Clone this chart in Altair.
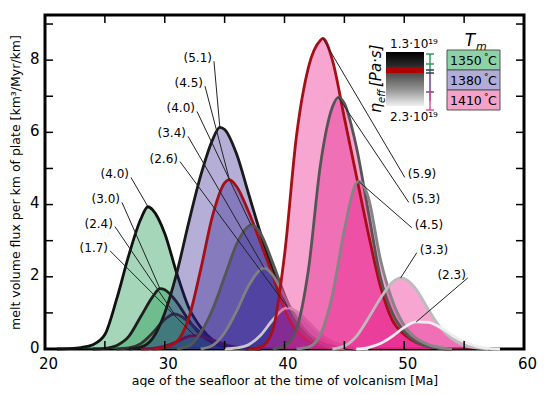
import altair as alt
import pandas as pd

# ---------------- values ----------------
# Tm = 1350 C (green)
g40_x = [21, 22, 23, 24, 25, 26, 27, 28, 28.6, 29, 30, 31, 32, 33, 34, 35, 36, 37, 38]
g40_y = [0, 0.01, 0.04, 0.12, 0.4, 1.4, 2.6, 3.6, 3.94, 3.85, 3.2, 2.1, 1.15, 0.6, 0.25, 0.1, 0.04, 0.01, 0]
g30_x = [24, 25, 26, 27, 28, 29, 29.6, 30, 31, 32, 33, 34, 35, 36, 37]
g30_y = [0, 0.02, 0.1, 0.35, 0.9, 1.45, 1.67, 1.64, 1.3, 0.8, 0.4, 0.17, 0.06, 0.02, 0]
g24_x = [26, 27, 28, 29, 30, 30.8, 31, 32, 33, 34, 35, 36, 37]
g24_y = [0, 0.03, 0.15, 0.45, 0.82, 0.97, 0.96, 0.75, 0.45, 0.22, 0.09, 0.03, 0]
g17_x = [28, 29, 30, 31, 32, 32.5, 33, 34, 35, 36, 37, 38]
g17_y = [0, 0.02, 0.08, 0.2, 0.35, 0.37, 0.35, 0.25, 0.13, 0.05, 0.015, 0]
# Tm = 1380 C (purple)
p51_x = [27, 28, 29, 30, 31, 32, 33, 34, 34.6, 35, 36, 37, 38, 39, 40, 41, 42, 43, 44, 45, 46]
p51_y = [0, 0.05, 0.3, 1.0, 2.1, 3.5, 4.8, 5.8, 6.14, 6.08, 5.4, 4.3, 3.2, 2.2, 1.4, 0.8, 0.4, 0.17, 0.06, 0.02, 0]
p45_x = [29, 30, 31, 32, 33, 34, 35, 35.4, 36, 37, 38, 39, 40, 41, 42, 43, 44, 45]
p45_y = [0, 0.04, 0.2, 0.85, 2.2, 3.7, 4.6, 4.69, 4.5, 3.8, 2.95, 2.05, 1.1, 0.5, 0.22, 0.08, 0.02, 0]
p40_x = [31, 32, 33, 34, 35, 36, 37, 37.2, 38, 39, 40, 41, 42, 43, 44, 45]
p40_y = [0, 0.08, 0.45, 1.1, 2.0, 2.9, 3.4, 3.44, 3.2, 2.4, 1.5, 0.75, 0.3, 0.1, 0.03, 0]
p34_x = [33, 34, 35, 36, 37, 38, 38.3, 39, 40, 41, 42, 43, 44, 45]
p34_y = [0, 0.1, 0.45, 1.05, 1.75, 2.2, 2.25, 2.05, 1.45, 0.85, 0.42, 0.17, 0.05, 0]
p26_x = [35, 36, 37, 38, 39, 40, 40.3, 41, 42, 43, 44, 45, 46, 47]
p26_y = [0, 0.03, 0.12, 0.38, 0.8, 1.12, 1.14, 1.05, 0.75, 0.42, 0.2, 0.08, 0.02, 0]
# Tm = 1410 C (pink)
k59_x = [37, 38, 39, 40, 41, 42, 43, 43.2, 44, 45, 46, 47, 48, 49, 50, 51, 52, 53, 54]
k59_y = [0, 0.05, 0.5, 2.6, 5.9, 7.8, 8.55, 8.6, 8.0, 6.4, 4.8, 3.2, 1.75, 0.8, 0.4, 0.18, 0.07, 0.02, 0]
k53_x = [39, 40, 41, 42, 43, 44, 44.5, 45, 46, 47, 48, 49, 50, 51, 52, 53, 54]
k53_y = [0, 0.08, 0.55, 2.2, 5.1, 6.7, 6.97, 6.8, 5.6, 3.8, 2.0, 1.0, 0.48, 0.2, 0.07, 0.02, 0]
k45_x = [41, 42, 43, 44, 45, 46, 46.2, 47, 48, 49, 50, 51, 52, 53, 54]
k45_y = [0, 0.05, 0.4, 1.5, 3.3, 4.6, 4.64, 4.2, 2.5, 1.35, 0.65, 0.3, 0.12, 0.04, 0]
k33_x = [44, 45, 46, 47, 48, 49, 49.7, 50, 51, 52, 53, 54, 55, 56, 57]
k33_y = [0, 0.08, 0.35, 0.85, 1.4, 1.85, 1.97, 1.95, 1.65, 1.1, 0.6, 0.28, 0.1, 0.03, 0]
k23_x = [46, 47, 48, 49, 50, 51, 52, 53, 54, 55, 56, 57, 58]
k23_y = [0, 0.04, 0.15, 0.35, 0.6, 0.75, 0.74, 0.6, 0.38, 0.2, 0.08, 0.02, 0]

# curve labels (bracketed numbers) and where their text sits
g_labels = ["(4.0)", "(3.0)", "(2.4)", "(1.7)"]
g_lab_x = [27.18, 26.43, 25.84, 25.43]
g_lab_y = [4.75, 4.06, 3.39, 2.72]
p_labels = ["(5.1)", "(4.5)", "(4.0)", "(3.4)", "(2.6)"]
p_lab_x = [34.11, 33.36, 32.69, 31.94, 31.27]
p_lab_y = [7.97, 7.28, 6.58, 5.89, 5.19]
k_labels = ["(5.9)", "(5.3)", "(4.5)", "(3.3)", "(2.3)"]
k_lab_x = [50.05, 50.38, 50.63, 51.05, 55.31]
k_lab_y = [4.75, 4.06, 3.36, 2.67, 1.97]

tm_labels = ["1350", "1380", "1410"]
visc_labels = ["1.3·10¹⁹", "2.3·10¹⁹"]
x_tick_labels = [20, 30, 40, 50, 60]
y_tick_labels = [0, 2, 4, 6, 8]
x_minor = [25, 30, 35, 40, 45, 50, 55]
y_minor = [1, 2, 3, 4, 5, 6, 7, 8, 9]

# ---------------- styles ----------------
FONT = "DejaVu Sans"
W, H = 479, 334
RED = "#a50f15"
group_fill = {"g": "#1e9850", "p": "#2c1a8c", "k": "#e8208c"}
group_alpha = {"g": 0.4, "p": 0.35, "k": 0.4}

curves = [
    ("g", g40_x, g40_y, "#111111"),
    ("g", g30_x, g30_y, "#1e1e1e"),
    ("g", g24_x, g24_y, "#333333"),
    ("g", g17_x, g17_y, RED),
    ("p", p51_x, p51_y, "#1a1a1a"),
    ("p", p45_x, p45_y, RED),
    ("p", p40_x, p40_y, "#555555"),
    ("p", p34_x, p34_y, "#808080"),
    ("p", p26_x, p26_y, "#c8c8c8"),
    ("k", k59_x, k59_y, RED),
    ("k", k53_x, k53_y, "#555555"),
    ("k", k45_x, k45_y, "#858585"),
    ("k", k33_x, k33_y, "#bcbcbc"),
    ("k", k23_x, k23_y, "#eeeeee"),
]

xs = alt.Scale(domain=[20, 60], nice=False, zero=False)
ys = alt.Scale(domain=[0, 9.25], nice=False, zero=False)
AX = alt.Axis(values=x_tick_labels, title="age of the seafloor at the time of volcanism [Ma]",
              labelFontSize=15, labelPadding=7, labelOffset=3, titleFontSize=12.5, titlePadding=3,
              labelFlush=False)
AY = alt.Axis(values=y_tick_labels, title="melt volume flux per km of plate [km³/Myr/km]",
              labelFontSize=15, labelPadding=6, labelOffset=-2, titleFontSize=12.5, titlePadding=7,
              labelFlush=False)


def X(f="x"):
    return alt.X(f"{f}:Q", scale=xs, axis=AX)


def Y(f="y"):
    return alt.Y(f"{f}:Q", scale=ys, axis=AY)


layers = []
for grp in ["g", "p", "k"]:
    sub = [c for c in curves if c[0] == grp]
    for _, cx, cy, _c in sub:
        df = pd.DataFrame({"x": cx, "y": cy})
        layers.append(
            alt.Chart(df).mark_area(interpolate="monotone", color=group_fill[grp],
                                    fillOpacity=group_alpha[grp]).encode(x=X(), y=Y())
        )
    for _, cx, cy, col in sub:
        df = pd.DataFrame({"x": cx, "y": cy})
        layers.append(
            alt.Chart(df).mark_line(interpolate="monotone", color=col, strokeWidth=2.8).encode(x=X(), y=Y())
        )

# leader lines + labels
def peak(cx, cy):
    i = max(range(len(cy)), key=lambda k: cy[k])
    return cx[i], cy[i]

lab_sets = [
    (g_labels, g_lab_x, g_lab_y, curves[0:4], ["right"] * 4),
    (p_labels, p_lab_x, p_lab_y, curves[4:9], ["right"] * 5),
    (k_labels, k_lab_x, k_lab_y, curves[9:14], ["left"] * 4 + ["right"]),
]
rows = []
for labs, lx, ly, cs, aligns in lab_sets:
    for t, x0, y0, c, al in zip(labs, lx, ly, cs, aligns):
        px, py = peak(c[1], c[2])
        rows.append({"t": t, "lx": x0, "ly": y0, "px": px, "py": py, "al": al})
lab_df = pd.DataFrame(rows)

layers.append(
    alt.Chart(lab_df).mark_rule(color="#222222", strokeWidth=1).encode(
        x=X("lx"), y=Y("ly"), x2="px:Q", y2="py:Q")
)
for al in ["left", "right"]:
    layers.append(
        alt.Chart(lab_df[lab_df["al"] == al]).mark_text(
            align=al, baseline="middle", font=FONT, fontSize=12, color="black",
            dx=(3 if al == "left" else -2), dy=-3
        ).encode(x=X("lx"), y=Y("ly"), text="t:N")
    )

# ---------------- ticks (inward) ----------------
xt = pd.DataFrame({"v": x_minor})
yt = pd.DataFrame({"v": y_minor})
layers.append(alt.Chart(xt).mark_rule(color="black", strokeWidth=1.5).encode(
    x=X("v"), y=alt.value(H), y2=alt.value(H - 8)))
layers.append(alt.Chart(xt).mark_rule(color="black", strokeWidth=1.5).encode(
    x=X("v"), y=alt.value(0), y2=alt.value(8)))
layers.append(alt.Chart(yt).mark_rule(color="black", strokeWidth=1.5).encode(
    y=Y("v"), x=alt.value(0), x2=alt.value(8)))
layers.append(alt.Chart(yt).mark_rule(color="black", strokeWidth=1.5).encode(
    y=Y("v"), x=alt.value(W), x2=alt.value(W - 8)))

# ---------------- legend (viscosity bar + Tm boxes) ----------------
one = pd.DataFrame({"a": [0]})
grad = alt.Gradient(
    gradient="linear", x1=0, x2=0, y1=0, y2=1,
    stops=[alt.GradientStop(offset=0, color="#000000"),
           alt.GradientStop(offset=0.25, color="#2a2a2a"),
           alt.GradientStop(offset=0.45, color="#5a5a5a"),
           alt.GradientStop(offset=0.7, color="#959595"),
           alt.GradientStop(offset=1, color="#f0f0f0")])
layers.append(alt.Chart(one).mark_rect(fill=grad).encode(
    x=alt.value(341), x2=alt.value(379), y=alt.value(37), y2=alt.value(91)))
layers.append(alt.Chart(one).mark_rect(fill="#b00000").encode(
    x=alt.value(341), x2=alt.value(379), y=alt.value(53), y2=alt.value(58)))

bars = [("#2a9d5c", 39, 58, [39, 49]), ("#7a3c9a", 58, 86, [77]), ("#e0509a", 77, 95, [95])]
for col, y0, y1, caps in bars:
    layers.append(alt.Chart(one).mark_rule(color=col, strokeWidth=1.5).encode(
        x=alt.value(385), y=alt.value(y0), y2=alt.value(y1)))
    for cy in caps:
        layers.append(alt.Chart(one).mark_rule(color=col, strokeWidth=1.5).encode(
            x=alt.value(381), x2=alt.value(389), y=alt.value(cy)))
for cy in [55, 58]:
    layers.append(alt.Chart(one).mark_rule(color="#2f3f4f", strokeWidth=1.5).encode(
        x=alt.value(381), x2=alt.value(389), y=alt.value(cy)))


def txt(s, x, y, size, align="center", baseline="middle", angle=0, style="normal"):
    return alt.Chart(one).mark_text(
        text=s, font=FONT, fontSize=size, align=align, baseline=baseline,
        angle=angle, fontStyle=style, color="black").encode(x=alt.value(x), y=alt.value(y))


layers.append(txt(visc_labels[0], 369, 29, 12))
layers.append(txt(visc_labels[1], 369, 102, 12))
layers.append(txt("η", 336, 98, 16, align="left", baseline="alphabetic", angle=270, style="italic"))
layers.append(txt("eff", 340, 88, 10, align="left", baseline="alphabetic", angle=270, style="italic"))
layers.append(txt("[Pa·s]", 336, 72, 15, align="left", baseline="alphabetic", angle=270, style="italic"))

box_fill = ["#8dd1a6", "#b1acd8", "#f4a2c7"]
for i, (lab, fc) in enumerate(zip(tm_labels, box_fill)):
    y0 = 35 + 20 * i
    layers.append(alt.Chart(one).mark_rect(fill=fc, stroke="#555555", strokeWidth=1).encode(
        x=alt.value(402), x2=alt.value(455), y=alt.value(y0), y2=alt.value(y0 + 20)))
    layers.append(txt(lab, 405, y0 + 10.5, 12.5, align="left"))
    layers.append(txt("°", 439, y0 + 7, 9, align="left"))
    layers.append(txt("C", 443, y0 + 10.5, 12.5, align="left"))
layers.append(txt("T", 425, 26, 17, style="italic"))
layers.append(txt("m", 431, 32, 11, align="left", style="italic"))

chart = alt.layer(*layers).properties(
    width=W, height=H,
    padding={"left": 37, "top": 7, "right": 18, "bottom": 38},
    autosize=alt.AutoSizeParams(type="none"),
).configure_view(stroke="black", strokeWidth=3).configure_axis(
    domain=False, ticks=False, grid=False, labelFont=FONT, titleFont=FONT,
    labelColor="black", titleColor="black", titleFontWeight="normal"
)

chart.save("out.html", embed_options={"renderer": "svg", "actions": False})
